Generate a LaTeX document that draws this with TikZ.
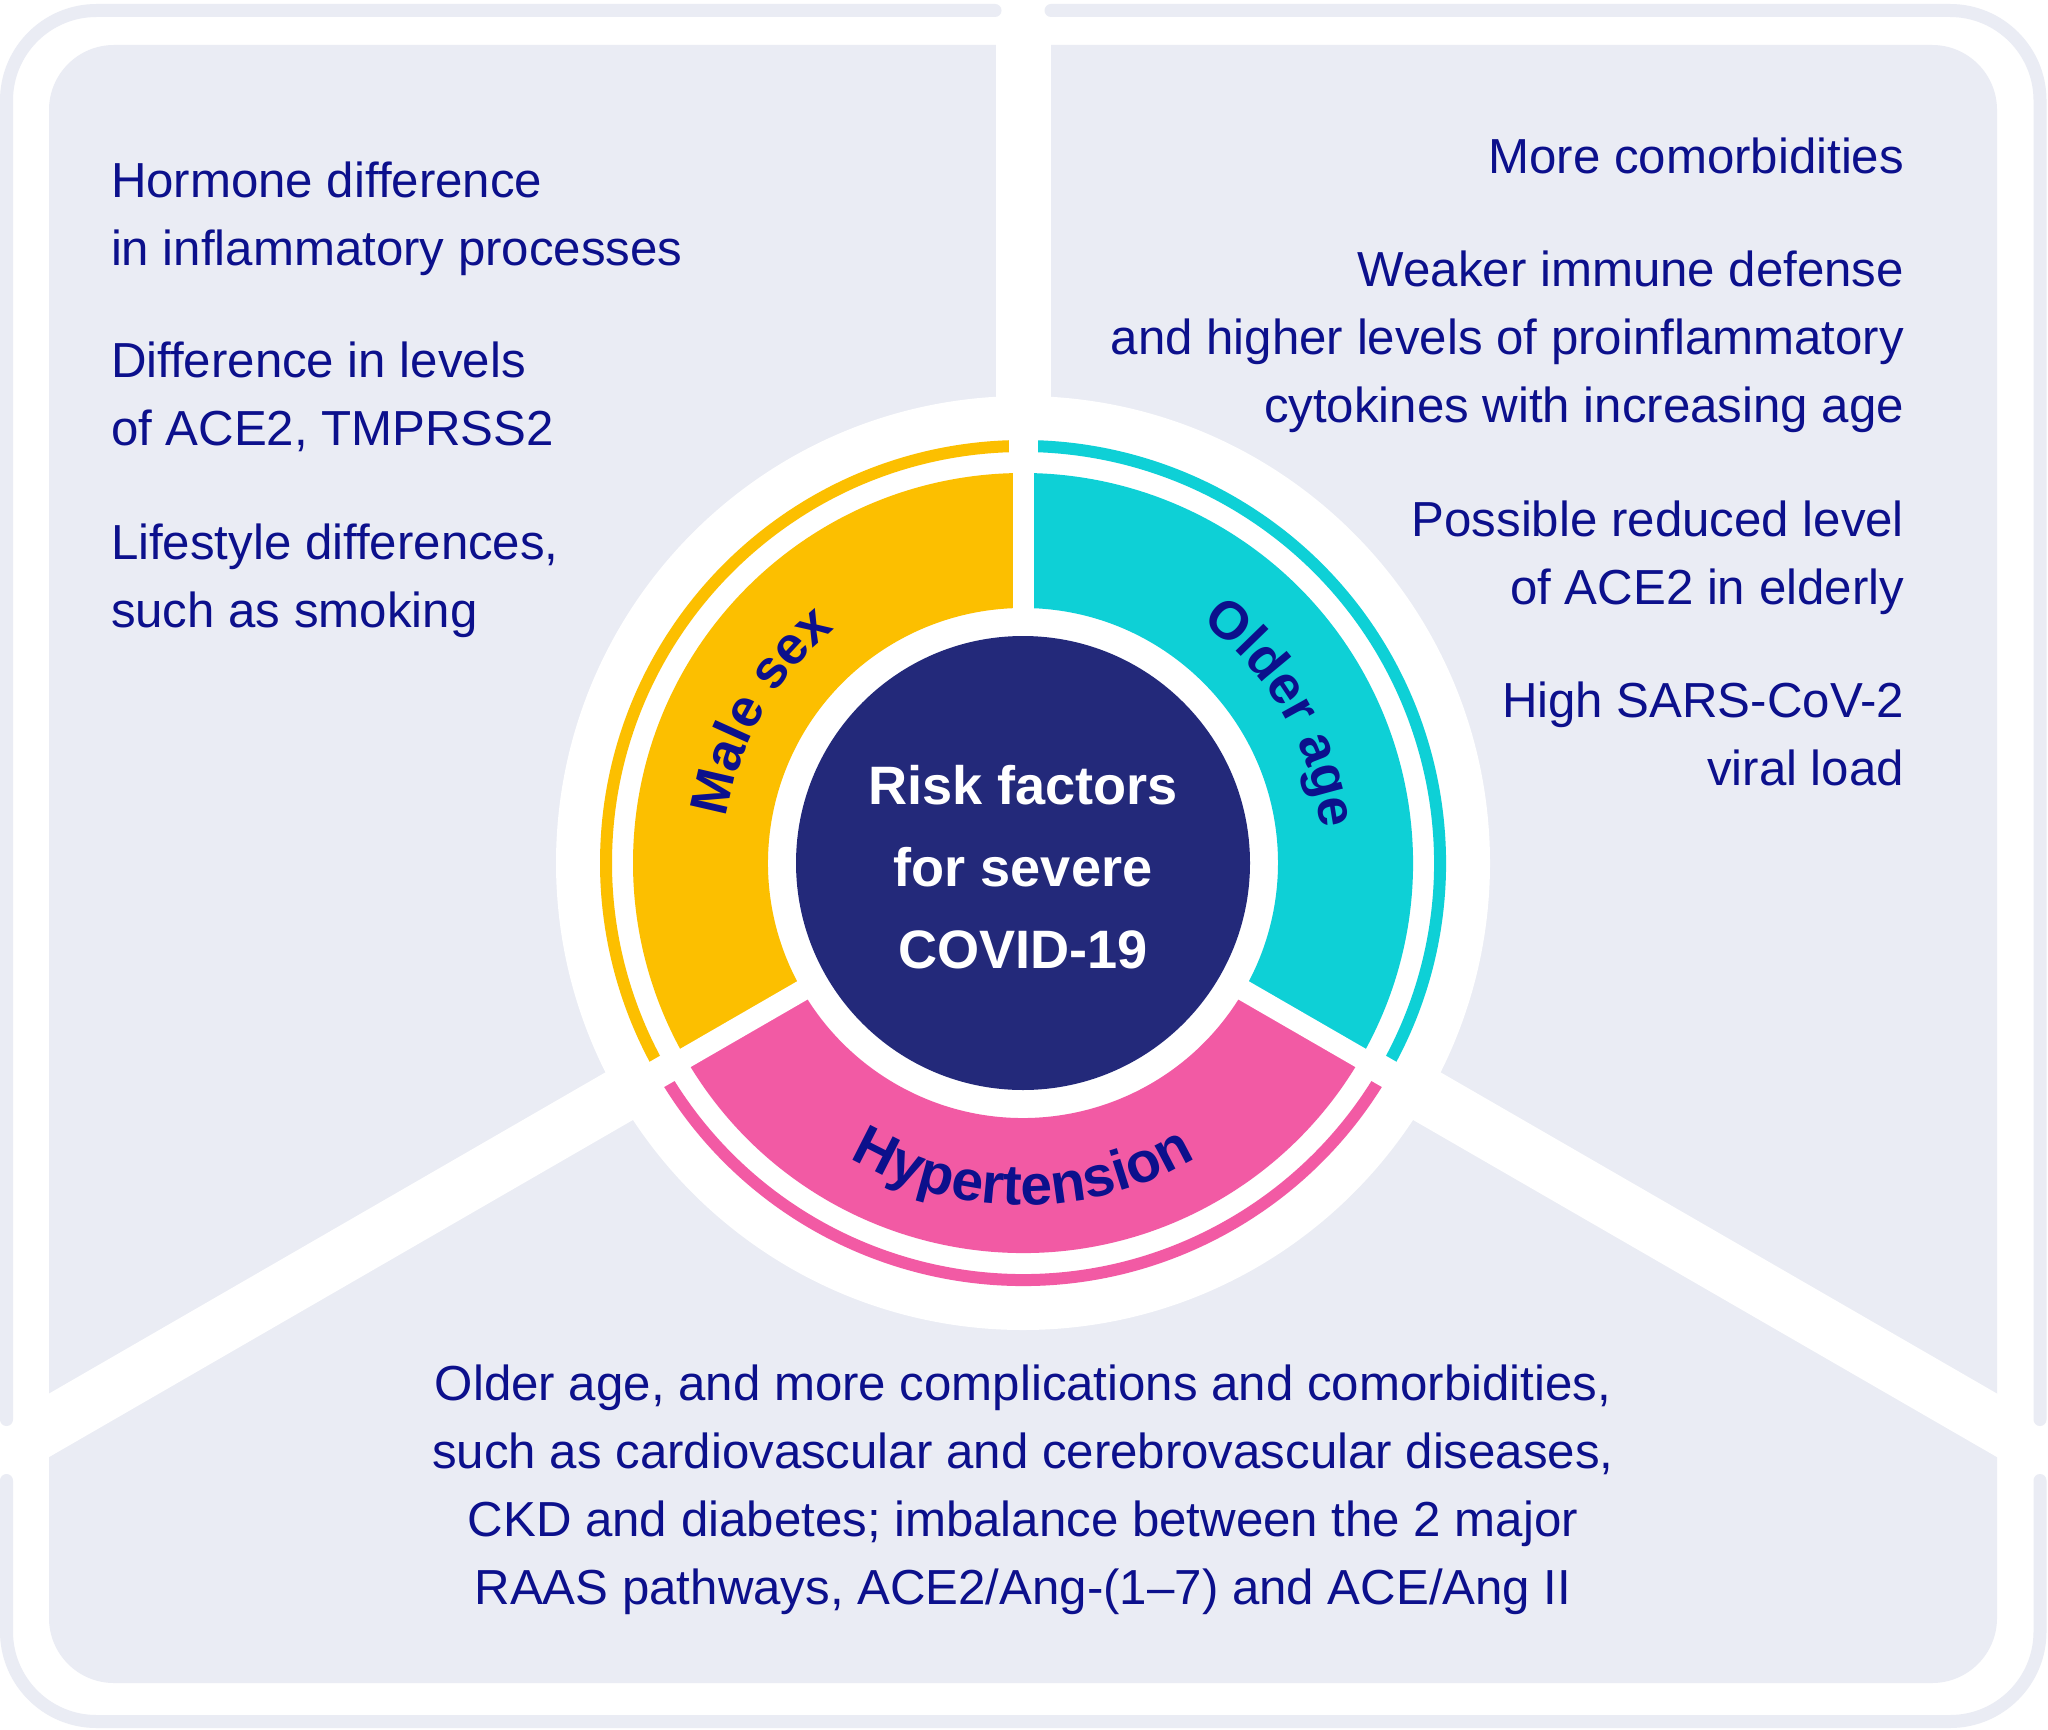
\documentclass[tikz,border=0pt]{standalone}
\usepackage{fontspec}
\setmainfont{Liberation Sans}
\usetikzlibrary{decorations.text}
\definecolor{panel}{HTML}{EAECF4}
\definecolor{txt}{HTML}{0C108C}
\definecolor{navy}{HTML}{23297A}
\definecolor{ylw}{HTML}{FCBF00}
\definecolor{cyn}{HTML}{0ED0D6}
\definecolor{pnk}{HTML}{F25AA4}
\newcommand\lblfont{\fontsize{15.2}{18}\selectfont\bfseries}
\newcommand\lblfontbig{\fontsize{16.2}{19}\selectfont\bfseries}
\begin{document}
\begin{tikzpicture}[x=0.1mm,y=0.1mm,
  frame/.style={draw=panel, line width=1.3mm, line cap=round, rounded corners=9mm},
  band/.style={draw=white, line width=5.5mm},
  thinarc/.style={line width=1.2mm},
  gapthick/.style={draw=white, line width=2.1mm},
  gapthin/.style={draw=white, line width=2.9mm},
  body/.style={text=txt, font=\fontsize{14.0}{19.35}\selectfont, inner sep=0pt, outer sep=0pt},
  centertext/.style={text=white, font=\fontsize{15.4}{23.2}\selectfont\bfseries, inner sep=0pt, align=center},
  ringlabel/.style={decorate, decoration={text along path, text align=center, text color=txt}}
]
\useasboundingbox (0,0) rectangle (2048,1729);
\fill[white] (0,0) rectangle (2048,1729);
\coordinate (c) at (1023,866);
% panel
\fill[panel, rounded corners=6.5mm] (49,46) rectangle (1997,1684);
% white dividing bands
\begin{scope}
  \clip (0,0) rectangle (2048,1729);
  \draw[band] (c) -- ++(90:1000);
  \draw[band] (c) -- ++(210:1300);
  \draw[band] (c) -- ++(330:1300);
\end{scope}
% outer frame in three pieces
\draw[frame] (995,1718.5) -- (6.5,1718.5) -- (6.5,309.5);
\draw[frame] (6.5,248.5) -- (6.5,7.5) -- (2040,7.5) -- (2040,248.5);
\draw[frame] (2040,309.5) -- (2040,1718.5) -- (1051,1718.5);
% ring
\begin{scope}[shift={(c)}]
  \fill[white] (0,0) circle[radius=467];
  \draw[ylw, thinarc] (90:417) arc[start angle=90, end angle=210, radius=417];
  \draw[pnk, thinarc] (210:417) arc[start angle=210, end angle=330, radius=417];
  \draw[cyn, thinarc] (-30:417) arc[start angle=-30, end angle=90, radius=417];
  \fill[ylw] (90:390) arc[start angle=90, end angle=210, radius=390] -- (210:255) arc[start angle=210, end angle=90, radius=255] -- cycle;
  \fill[pnk] (210:390) arc[start angle=210, end angle=330, radius=390] -- (330:255) arc[start angle=330, end angle=210, radius=255] -- cycle;
  \fill[cyn] (-30:390) arc[start angle=-30, end angle=90, radius=390] -- (90:255) arc[start angle=90, end angle=-30, radius=255] -- cycle;
  \foreach \a in {90,210,330} {
    \draw[gapthick] (\a:245) -- (\a:398);
    \draw[gapthin] (\a:398) -- (\a:432);
  }
  \fill[navy] (0,0) circle[radius=227];
  \path[ringlabel, decoration={text={|\lblfont|Male sex}}] (210:300) arc[start angle=210, end angle=90, radius=300];
  \path[ringlabel, decoration={text={|\lblfont|Older age}}] (90:300) arc[start angle=90, end angle=-30, radius=300];
  \path[ringlabel, decoration={text={|\lblfontbig|Hypertension}}] (210:342) arc[start angle=210, end angle=330, radius=342];
\end{scope}
\node[centertext, anchor=north] (title) at (1023,964) {Risk factors\\for severe\\COVID-19};
% left texts
\node[body, anchor=north west, align=left] (hormone) at (111,1567) {Hormone difference\\in inflammatory processes};
\node[body, anchor=north west, align=left] (ace) at (111,1387) {Difference in levels\\of ACE2, TMPRSS2};
\node[body, anchor=north west, align=left] (life) at (111,1205) {Lifestyle differences,\\such as smoking};
% right texts
\node[body, anchor=north east, align=right] (comorb) at (1904,1591) {More comorbidities};
\node[body, anchor=north east, align=right] (immune) at (1904,1478) {Weaker immune defense\\and higher levels of proinflammatory\\cytokines with increasing age};
\node[body, anchor=north east, align=right] (reduced) at (1904,1228) {Possible reduced level\\of ACE2 in elderly};
\node[body, anchor=north east, align=right] (viral) at (1904,1047) {High SARS-CoV-2\\viral load};
% bottom text
\node[body, anchor=north, align=center] (bottom) at (1023,364) {Older age, and more complications and comorbidities,\\such as cardiovascular and cerebrovascular diseases,\\CKD and diabetes; imbalance between the 2 major\\RAAS pathways, ACE2/Ang-(1--7) and ACE/Ang II};
\end{tikzpicture}
\end{document}
